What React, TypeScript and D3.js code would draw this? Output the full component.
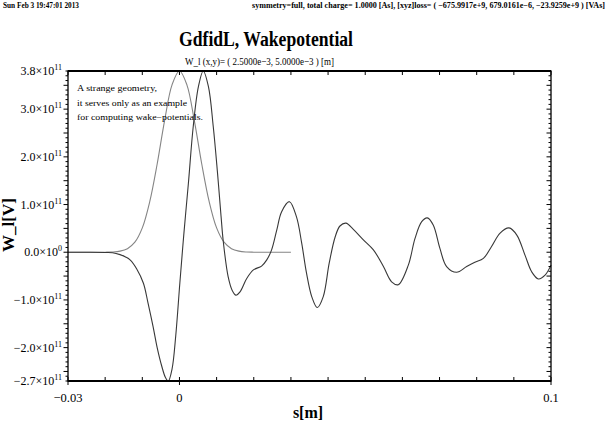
import * as d3 from 'd3';

// wake potential W_l(s), values in units of 1e11 V
const wakeS = [
  -0.030, -0.024, -0.020, -0.018, -0.016, -0.0145, -0.0133, -0.0115, -0.0097, -0.0085,
  -0.0071, -0.006, -0.0048, -0.0038, -0.003, -0.002, -0.001, 0.0001, 0.0012, 0.0024,
  0.0037, 0.0051, 0.0064, 0.0078, 0.0091, 0.0102, 0.0112, 0.0118, 0.0131, 0.0142,
  0.0152, 0.0163, 0.0181, 0.0199, 0.0221, 0.0235, 0.0248, 0.0262, 0.0275, 0.0296,
  0.0315, 0.0329, 0.0342, 0.0356, 0.0371, 0.0387, 0.0403, 0.0419, 0.0432, 0.0448,
  0.0468, 0.0495, 0.0522, 0.0549, 0.0571, 0.0589, 0.0616, 0.0634, 0.0652, 0.0667,
  0.0683, 0.0701, 0.0719, 0.0746, 0.0773, 0.0795, 0.0818, 0.0840, 0.0863, 0.0887,
  0.0908, 0.0930, 0.0948, 0.0966, 0.0984, 0.1,
];
const wakeV = [
  0, 0, -0.005, -0.01, -0.05, -0.10, -0.16, -0.35, -0.65, -1.05,
  -1.56, -2.0, -2.38, -2.62, -2.70, -2.45, -1.75, -0.65, 0.40, 1.44,
  2.63, 3.47, 3.80, 3.47, 2.63, 1.70, 0.75, 0.22, -0.51, -0.80,
  -0.90, -0.83, -0.55, -0.37, -0.29, -0.16, 0.05, 0.47, 0.85, 1.06,
  0.74, 0.19, -0.44, -0.93, -1.16, -0.93, -0.23, 0.32, 0.55, 0.61,
  0.48, 0.26, 0.05, -0.30, -0.62, -0.68, -0.27, 0.29, 0.64, 0.72,
  0.57, 0.08, -0.30, -0.42, -0.30, -0.21, -0.13, 0.12, 0.40, 0.51,
  0.36, -0.06, -0.41, -0.56, -0.48, -0.27,
];

// bunch charge profile (scaled), 1e11 units
const bunchS = [
  -0.030, -0.028, -0.026, -0.024, -0.022, -0.020, -0.018, -0.016, -0.014, -0.012,
  -0.010, -0.008, -0.006, -0.004, -0.002, 0, 0.002, 0.004, 0.006, 0.008,
  0.010, 0.012, 0.014, 0.016, 0.018, 0.020, 0.022, 0.024, 0.026, 0.028, 0.030,
];
const bunchV = [
  0, 0, 0, 0, 0, 0.001, 0.005, 0.023, 0.075, 0.21,
  0.51, 1.06, 1.85, 2.76, 3.51, 3.80, 3.51, 2.76, 1.85, 1.06,
  0.51, 0.21, 0.075, 0.023, 0.005, 0.001, 0, 0, 0, 0, 0,
];

const xLabels = [-0.03, 0, 0.1];
const xLabelText = ['\u22120.03', '0', '0.1'];
const yLabels = [3.8, 3, 2, 1, 0, -1, -2, -2.7];
const yLabelMant = ['3.8', '3.0', '2.0', '1.0', '0.0', '\u22121.0', '\u22122.0', '\u22122.7'];
const yLabelExp = ['11', '11', '11', '11', '0', '11', '11', '11'];

const noteLines = [
  'A strange geometry,',
  'it serves only as an example',
  'for computing wake\u2212potentials.',
];
const noteWidths = [80, 110, 126];

const dateText = 'Sun Feb  3 19:47:01 2013';
const infoText = 'symmetry=full, total charge= 1.0000 [As], [xyz]loss= ( \u2212675.9917e+9, 679.0161e\u22126, \u221223.9259e+9 ) [VAs]';
const titleText = 'GdfidL, Wakepotential';
const subText = 'W_l (x,y)= ( 2.5000e\u22123, 5.0000e\u22123 ) [m]';

const serif = '"Liberation Serif", "DejaVu Serif", serif';

export default function App() {
  const W = 609, H = 423;
  const left = 68, right = 551, top = 71, bottom = 381;

  const x = d3.scaleLinear().domain([-0.03, 0.1]).range([left, right]);
  const y = d3.scaleLinear().domain([-2.7, 3.8]).range([bottom, top]);

  const line = d3.line<[number, number]>()
    .x(d => x(d[0]))
    .y(d => y(d[1]))
    .curve(d3.curveCatmullRom.alpha(0.5));

  const wake = wakeS.map((s, i) => [s, wakeV[i]] as [number, number]);
  const bunch = bunchS.map((s, i) => [s, bunchV[i]] as [number, number]);

  const xTicks = d3.range(-30, 101, 10).map(k => k / 1000);
  const yTicks = d3.range(-27, 39).map(k => k / 10);

  return (
    <svg width={W} height={H} style={{ position: 'absolute', left: 0, top: 0, background: '#fff' }}
      fontFamily={serif}>
      <rect width={W} height={H} fill="#fff" />

      {/* header */}
      <text x={3} y={8} fontSize={8} fontWeight="bold" textLength={76} lengthAdjust="spacingAndGlyphs">
        {dateText}
      </text>
      <text x={252} y={8} fontSize={8} fontWeight="bold" textLength={353} lengthAdjust="spacingAndGlyphs">
        {infoText}
      </text>
      <text x={266} y={46} fontSize={20} fontWeight="bold" textAnchor="middle" textLength={174} lengthAdjust="spacingAndGlyphs">
        {titleText}
      </text>
      <text x={185} y={65} fontSize={11} textLength={149} lengthAdjust="spacingAndGlyphs">
        {subText}
      </text>

      {/* curves */}
      <path d={line(bunch)!} fill="none" stroke="#858585" strokeWidth={1.1} />
      <path d={line(wake)!} fill="none" stroke="#383838" strokeWidth={1.1} />

      {/* frame */}
      <rect x={left} y={top} width={right - left} height={bottom - top} fill="none" stroke="#000" strokeWidth={1.3} />
      <line x1={left} x2={right} y1={top} y2={top} stroke="#000" strokeWidth={2} />
      <line x1={left} x2={right} y1={bottom} y2={bottom} stroke="#000" strokeWidth={2} />

      {/* x ticks */}
      {xTicks.map((t, i) => (
        <g key={'xt' + i}>
          <line x1={x(t)} x2={x(t)} y1={bottom} y2={bottom - 4} stroke="#000" />
          <line x1={x(t)} x2={x(t)} y1={top} y2={top + 4} stroke="#000" />
        </g>
      ))}
      {xLabels.map((t, i) => (
        <g key={'xl' + i}>
          <line x1={x(t)} x2={x(t)} y1={bottom} y2={bottom + 4} stroke="#000" />
          <text x={x(t)} y={402} fontSize={12.5} textAnchor="middle">{xLabelText[i]}</text>
        </g>
      ))}

      {/* y ticks */}
      {yTicks.map((t, i) => {
        const major = Math.abs(t * 2 - Math.round(t * 2)) < 1e-6;
        const len = major ? 4.5 : 2.5;
        return (
          <g key={'yt' + i}>
            <line x1={left} x2={left - len} y1={y(t)} y2={y(t)} stroke="#000" />
            <line x1={right} x2={right - len} y1={y(t)} y2={y(t)} stroke="#000" />
          </g>
        );
      })}
      {yLabels.map((t, i) => (
        <text key={'yl' + i} x={62} y={y(t) + 4} fontSize={12} textAnchor="end">
          {`${yLabelMant[i]}\u00d710`}<tspan fontSize={8} dy={-5}>{yLabelExp[i]}</tspan>
        </text>
      ))}

      {/* note */}
      {noteLines.map((l, i) => (
        <text key={'n' + i} x={77} y={91 + i * 14.5} fontSize={8.5}
          textLength={noteWidths[i]} lengthAdjust="spacingAndGlyphs">{l}</text>
      ))}

      {/* axis titles */}
      <text x={308} y={418} fontSize={16} fontWeight="bold" textAnchor="middle">s[m]</text>
      <text transform="translate(14,225) rotate(-90)" fontSize={17} fontWeight="bold" textAnchor="middle">
        W_l[V]
      </text>
    </svg>
  );
}
